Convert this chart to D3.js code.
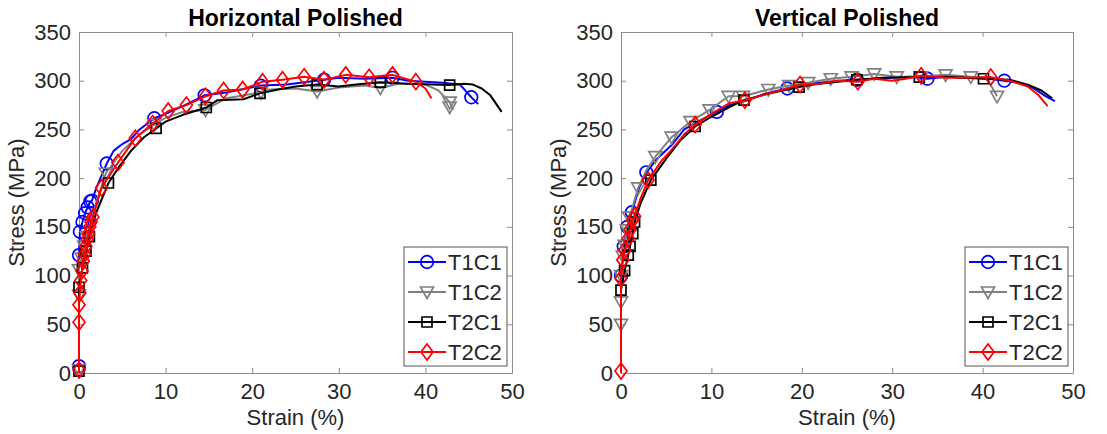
<!DOCTYPE html>
<html>
<head>
<meta charset="utf-8">
<script src="https://cdn.jsdelivr.net/npm/d3@7"></script>
<style>
  body { margin: 0; background: #fff; }
  svg text { font-family: "Liberation Sans", Arial, sans-serif; }
</style>
</head>
<body>
<svg id="chart" width="1107" height="434"></svg>
<script>
// ---- data ----
var xTicks = [0, 10, 20, 30, 40, 50];
var yTicks = [0, 50, 100, 150, 200, 250, 300, 350];
var seriesNames = ["T1C1", "T1C2", "T2C1", "T2C2"];
var panelTitles = ["Horizontal Polished", "Vertical Polished"];

// Horizontal polished: [strain %, stress MPa]
var hT1C1 = [[0,0],[0,7],[0,121],[0.1,145],[0.4,155],[0.7,164],[1,170],[1.3,176],[1.5,177],[2,190],[3.2,215],[4,228],[5,235],[6,240],[7,250],[8.7,261.5],[10,266],[12,274],[14.5,285],[17,288],[21,295],[24,296],[28.3,301],[30,303],[33,302],[36.2,303],[38,300],[42,298],[44,296],[45.3,283],[46.1,276]];
var hT1C1Marks = [[0,7],[0,121],[0.1,145],[0.4,155],[0.7,164],[1,170],[1.3,176],[1.5,177],[3.2,215],[8.7,261.5],[14.5,285],[21,295],[28.3,301],[36.2,303],[45.3,283]];
var hT1C2 = [[0,0],[0,3],[0,80],[0,106],[0.3,118],[0.6,130],[0.9,140],[2,175],[3.1,205],[5,228],[7,245],[8.7,255],[10,262],[12,268],[14.6,270],[17,282],[21,288],[22,291],[25,292],[27.5,289],[30,293],[33,295],[34.8,292.5],[37,297],[40,296],[41.5,290],[42.8,278],[43.2,270]];
var hT1C2Marks = [[0,3],[0,80],[0,106],[0.3,118],[0.6,130],[0.9,140],[3.1,205],[8.7,255],[14.6,270],[21,288],[27.5,289],[34.8,292.5],[42.8,278],[42.8,273]];
var hT2C1 = [[0,0],[0,2],[0,88],[0.4,108],[0.8,125],[1.2,140],[2,165],[3.4,195],[4.5,210],[6,228],[7.5,242],[8.9,251],[10,258],[12,265],[14.7,272.5],[16,280],[19,281],[20.9,287],[23,291],[25,294],[27.5,296],[30,294],[32,296],[34.8,298.5],[38,297],[42.8,295.5],[44.5,297],[45.5,296],[46.5,292],[47.5,285],[48.8,268]];
var hT2C1Marks = [[0,2],[0,88],[0.4,108],[0.8,125],[1.2,140],[3.4,195],[8.9,251],[14.7,272.5],[20.9,287],[27.5,296],[34.8,298.5],[42.8,295.5]];
var hT2C2 = [[0,0],[0,3],[0,52],[0,70],[0.1,82],[0.2,95],[0.35,105],[0.5,115],[0.65,122],[0.8,130],[0.95,137],[1.1,143],[1.25,150],[1.4,155],[1.6,160],[2.6,190],[4.5,216],[6.5,241],[8.5,256],[10.3,269],[12.4,275],[14.6,284],[16.7,290],[18.9,291],[21.2,299],[23.5,301],[26,304],[28.3,301],[30.8,306],[33.5,303.5],[36.2,306],[38.9,299],[40,292],[40.7,282]];
var hT2C2Marks = [[0,3],[0,52],[0,70],[0.1,82],[0.2,95],[0.35,105],[0.5,115],[0.65,122],[0.8,130],[0.95,137],[1.1,143],[1.25,150],[1.4,155],[1.6,160],[2.6,190],[4.5,216],[6.5,241],[8.5,256],[10.3,269],[12.4,275],[14.6,284],[16.7,290],[18.9,291],[21.2,299],[23.5,301],[26,304],[28.3,301],[30.8,306],[33.5,303.5],[36.2,306],[38.9,299]];

// Vertical polished
var vT1C1 = [[0,0],[0,100],[0.3,130],[0.7,150],[1.2,165],[2,190],[2.8,206],[4,220],[5.6,234],[7,250],[8.5,258],[10.6,268],[12,275],[14,280],[16,287],[18.4,292],[20,296],[22,298],[24,300],[26.1,301],[28,302],[30,303],[32,304],[33.9,302],[36,304],[38,303],[40,303],[42.4,300],[44,298],[45.5,293],[47,284],[48,279]];
var vT1C1Marks = [[0,100],[0.3,130],[0.7,150],[1.2,165],[2.8,206],[10.6,268],[18.4,292],[26.1,301],[33.9,302],[42.4,300]];
var vT1C2 = [[0,0],[0,50],[0,73],[0,100],[0.2,120],[0.4,131],[0.65,147],[0.9,160],[1.2,168],[1.9,190],[2.8,208],[3.8,222],[5.6,242],[7.7,258],[9.8,270],[11.9,284],[13.5,284],[16.3,291],[18.6,295],[20.7,298],[23.2,302],[25.5,304],[28,307],[30.5,304],[33.2,304],[35.9,306],[38.7,304],[40.5,302],[41.6,284]];
var vT1C2Marks = [[0,50],[0,73],[0,100],[0.2,120],[0.4,131],[0.65,147],[0.9,160],[1.9,190],[3.8,222],[5.6,242],[7.7,258],[9.8,270],[11.9,284],[13.5,284],[16.3,291],[18.6,295],[20.7,298],[23.2,302],[25.5,304],[28,307],[30.5,304],[33.2,304],[35.9,306],[38.7,304],[41.6,284]];
var vT2C1 = [[0,0],[0,85],[0.4,105],[0.8,121],[1,130],[1.3,143],[1.5,155],[2.2,175],[3.3,198],[5,220],[6.5,238],[8.2,253],[10,263],[12,273],[13.6,280],[16,286],[19.7,293.5],[22,297],[24,299],[26.1,301],[29,303],[33,303.7],[36,304],[40.1,302],[43,301],[45,296],[46.5,290],[47.7,282]];
var vT2C1Marks = [[0,85],[0.4,105],[0.8,121],[1,130],[1.3,143],[1.5,155],[3.3,198],[8.2,253],[13.6,280],[19.7,293.5],[26.1,301],[33,303.7],[40.1,302]];
var vT2C2 = [[0,0],[0,2],[0,97],[0.2,116],[0.4,126],[0.8,138],[1,147],[1.3,157],[1.5,161],[2.2,180],[3,198],[4.5,218],[5.5,228],[7,245],[8.2,255],[10,266],[12,277],[13.7,280],[16,286],[18,291],[19.8,296],[22,297],[24,300],[26.2,299],[28,302],[30,300],[31.5,302],[33.2,305],[36,303],[38,303],[40.9,303.7],[43,300],[45,294],[46.2,285],[47.2,274]];
var vT2C2Marks = [[0,2],[0,97],[0.2,116],[0.4,126],[0.8,138],[1,147],[1.3,157],[1.5,161],[3,198],[8.2,255],[13.7,280],[19.8,296],[26.2,299],[33.2,305],[40.9,303.7]];

// ---- styles ----
var colors = ["#0000ff", "#808080", "#000000", "#ff0000"];
var shapes = ["circle", "triangle", "square", "diamond"];
var axisColor = "#8c8c8c";
var textColor = "#262626";

var panels = [
  { title: panelTitles[0], box: {l: 79, r: 512, t: 32, b: 373},
    lines: [hT1C1, hT1C2, hT2C1, hT2C2], marks: [hT1C1Marks, hT1C2Marks, hT2C1Marks, hT2C2Marks] },
  { title: panelTitles[1], box: {l: 621, r: 1073, t: 32, b: 373},
    lines: [vT1C1, vT1C2, vT2C1, vT2C2], marks: [vT1C1Marks, vT1C2Marks, vT2C1Marks, vT2C2Marks] }
];

var svg = d3.select("#chart");

function markerPath(shape) {
  if (shape == "circle") return d3.symbol(d3.symbolCircle, 125)();
  if (shape == "triangle") return "M-6.5,-5L6.5,-5L0,6.5Z";
  if (shape == "square") return "M-5,-5H5V5H-5Z";
  return "M0,-8L6,0L0,8L-6,0Z";
}

function styleAxis(a, withText) {
  a.select(".domain").attr("stroke", axisColor);
  a.selectAll("line").attr("stroke", axisColor);
  if (withText) a.selectAll("text").attr("fill", textColor).style("font-size", "22px");
}

function drawPanel(p) {
  var x = d3.scaleLinear().domain([0, 50]).range([p.box.l, p.box.r]);
  var y = d3.scaleLinear().domain([0, 350]).range([p.box.b, p.box.t]);
  var g = svg.append("g");

  // box with inward ticks on all sides
  var tick = 5;
  g.append("g").attr("transform", "translate(0," + p.box.b + ")")
    .call(d3.axisBottom(x).tickValues(xTicks).tickSizeInner(-tick).tickSizeOuter(0).tickPadding(10))
    .call(styleAxis, true);
  g.append("g").attr("transform", "translate(0," + p.box.t + ")")
    .call(d3.axisTop(x).tickValues(xTicks).tickSizeInner(-tick).tickSizeOuter(0).tickFormat(""))
    .call(styleAxis, false);
  g.append("g").attr("transform", "translate(" + p.box.l + ",0)")
    .call(d3.axisLeft(y).tickValues(yTicks).tickSizeInner(-tick).tickSizeOuter(0).tickPadding(8))
    .call(styleAxis, true);
  g.append("g").attr("transform", "translate(" + p.box.r + ",0)")
    .call(d3.axisRight(y).tickValues(yTicks).tickSizeInner(-tick).tickSizeOuter(0).tickFormat(""))
    .call(styleAxis, false);

  // titles and labels
  var cx = (p.box.l + p.box.r) / 2;
  g.append("text").attr("x", cx).attr("y", 26).attr("text-anchor", "middle")
    .style("font-size", "23px").style("font-weight", "bold").attr("fill", "#000").text(p.title);
  g.append("text").attr("x", cx).attr("y", 425).attr("text-anchor", "middle")
    .style("font-size", "22px").attr("fill", textColor).text("Strain (%)");
  g.append("text").attr("transform", "translate(" + (p.box.l - 55) + "," + ((p.box.t + p.box.b) / 2) + ") rotate(-90)")
    .attr("text-anchor", "middle").style("font-size", "22px").attr("fill", textColor).text("Stress (MPa)");

  var line = d3.line().x(function(d) { return x(d[0]); }).y(function(d) { return y(d[1]); });

  for (var i = 0; i < p.lines.length; i++) {
    g.append("path").datum(p.lines[i]).attr("d", line)
      .attr("fill", "none").attr("stroke", colors[i]).attr("stroke-width", 2)
      .attr("stroke-linejoin", "round");
    g.selectAll(".m" + i).data(p.marks[i]).enter().append("path")
      .attr("class", "m" + i)
      .attr("transform", function(d) { return "translate(" + x(d[0]) + "," + y(d[1]) + ")"; })
      .attr("d", markerPath(shapes[i]))
      .attr("fill", "none").attr("stroke", colors[i]).attr("stroke-width", 1.7);
  }

  // legend
  var lg = g.append("g").attr("transform", "translate(" + (p.box.r - 108) + "," + (p.box.b - 126) + ")");
  lg.append("rect").attr("width", 103).attr("height", 119)
    .attr("fill", "#fff").attr("stroke", "#555").attr("stroke-width", 1);
  seriesNames.forEach(function(name, i) {
    var ly = 15 + i * 30;
    lg.append("line").attr("x1", 4).attr("x2", 42).attr("y1", ly).attr("y2", ly)
      .attr("stroke", colors[i]).attr("stroke-width", 2);
    lg.append("path").attr("transform", "translate(23," + ly + ")").attr("d", markerPath(shapes[i]))
      .attr("fill", "none").attr("stroke", colors[i]).attr("stroke-width", 1.7);
    lg.append("text").attr("x", 44).attr("y", ly + 8).style("font-size", "22px")
      .attr("fill", textColor).text(name);
  });
}

panels.forEach(drawPanel);
</script>
</body>
</html>
